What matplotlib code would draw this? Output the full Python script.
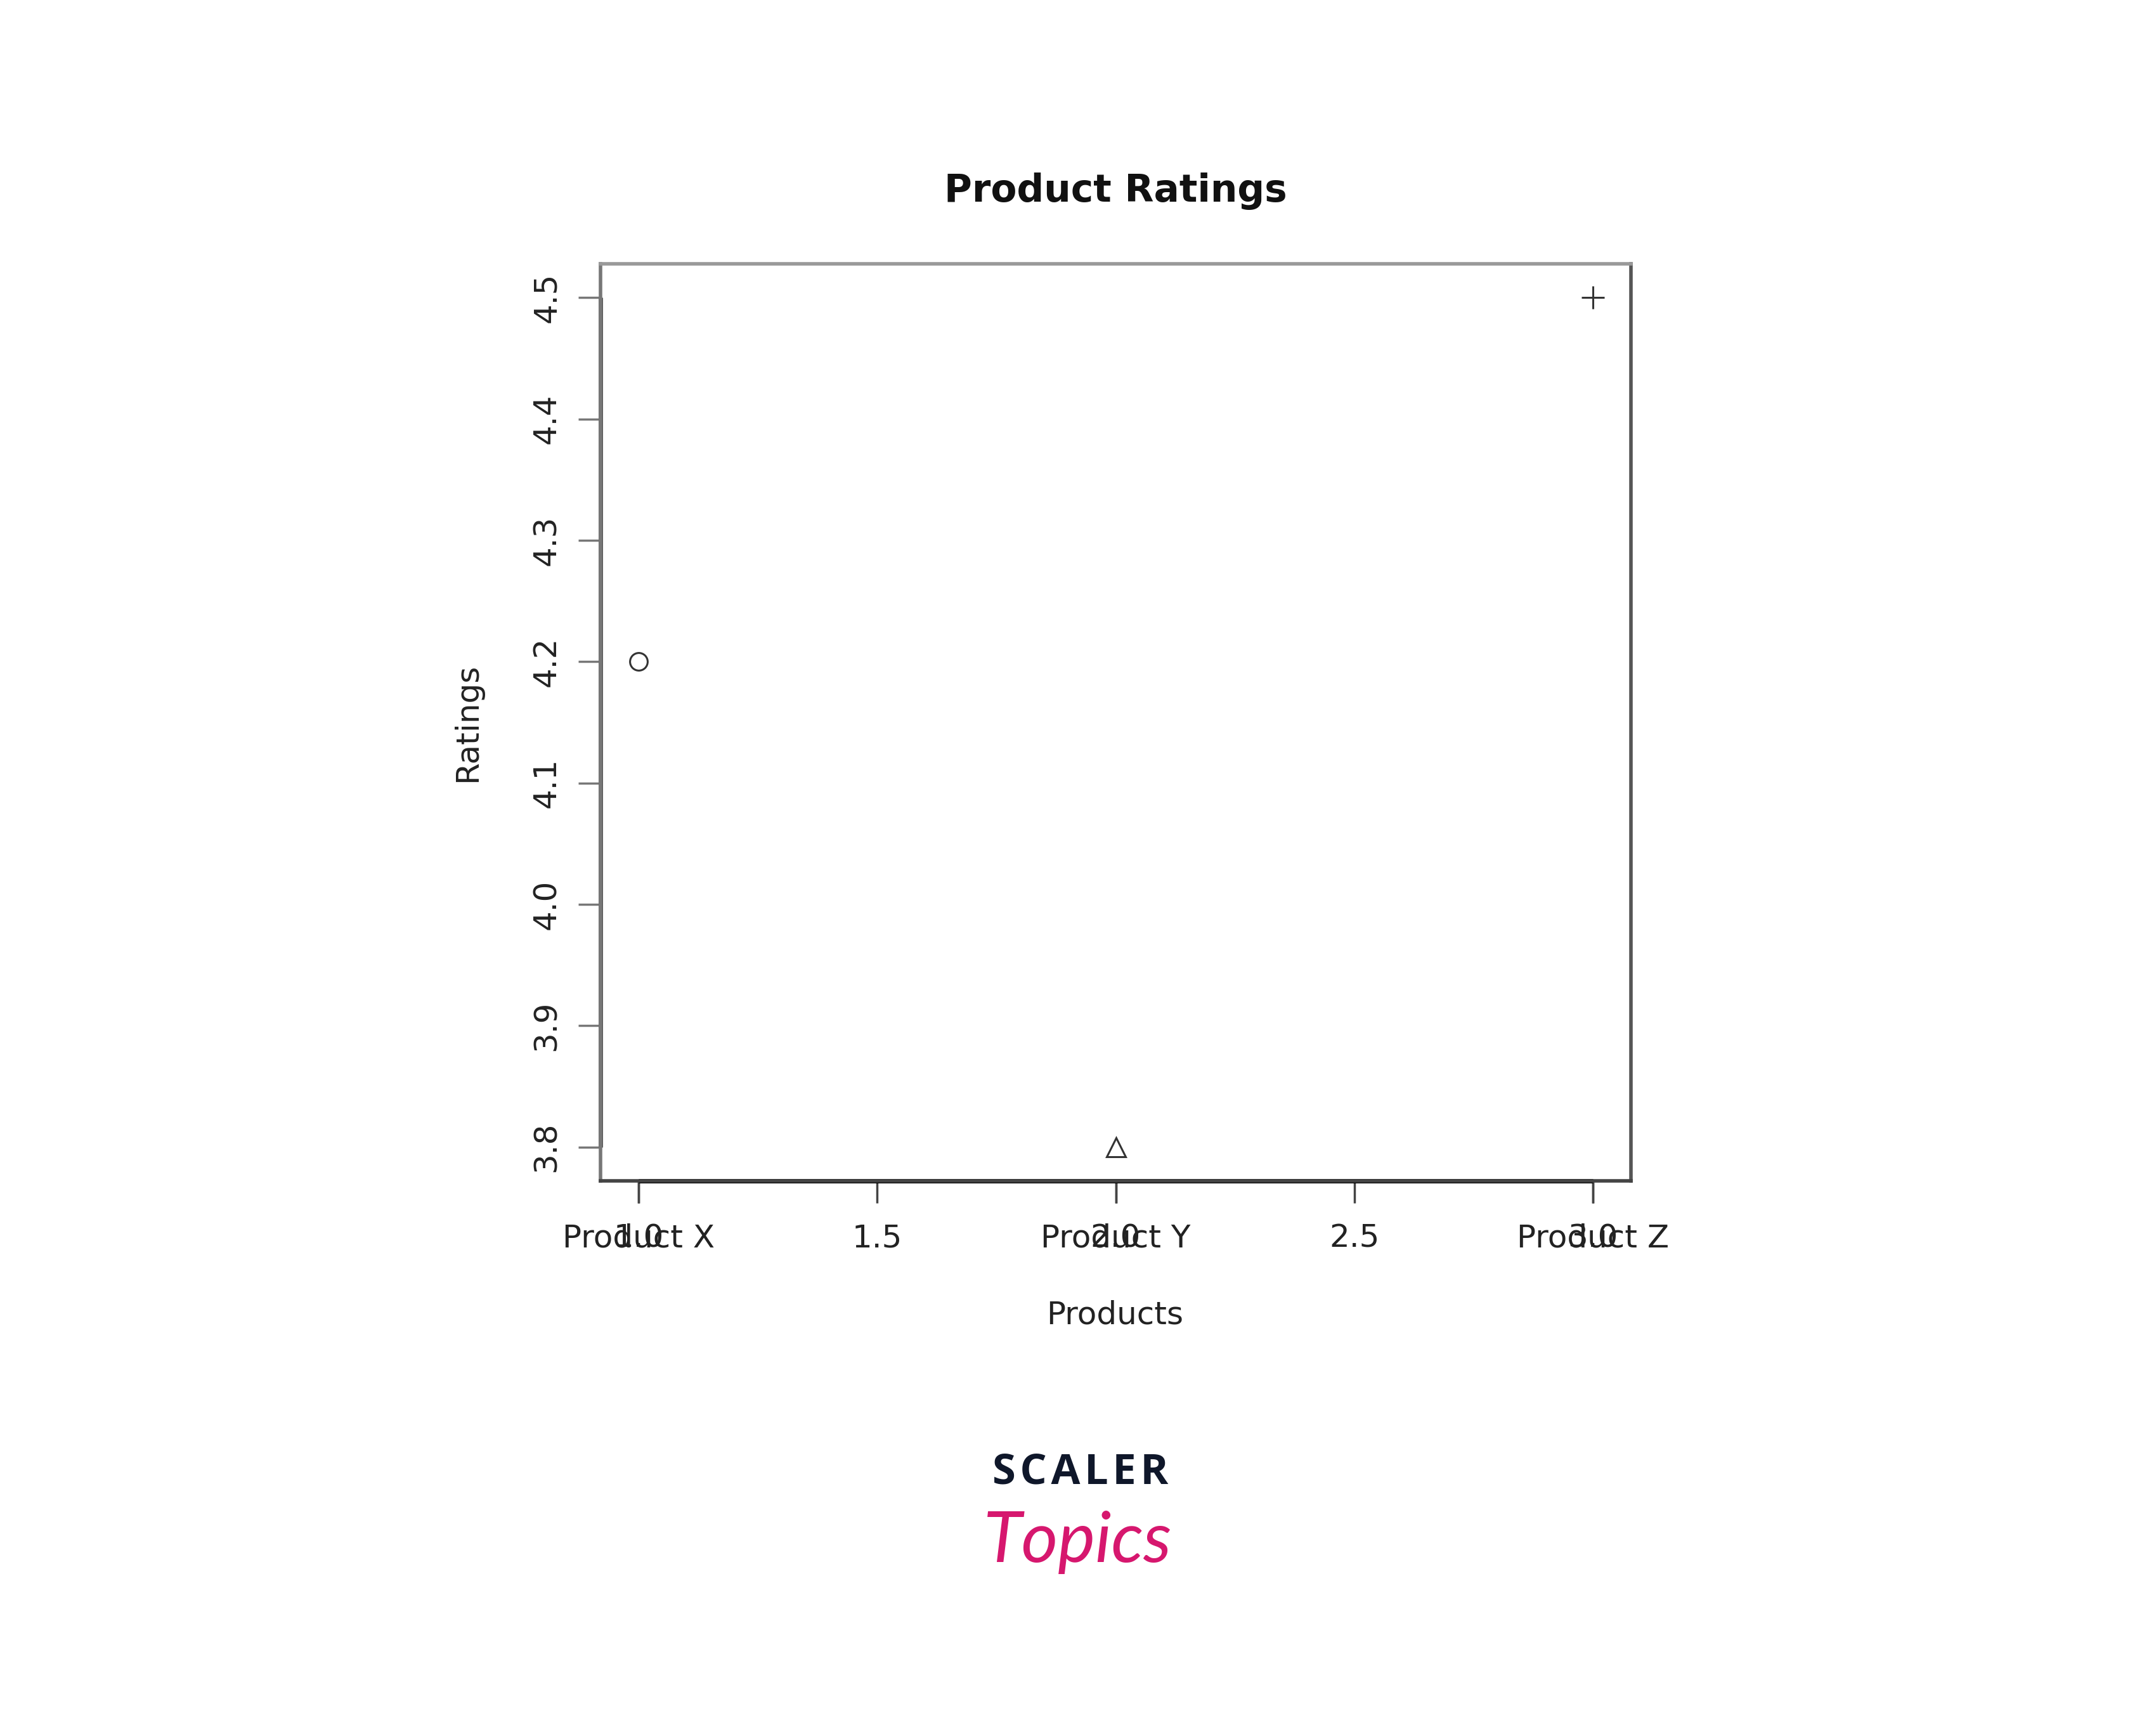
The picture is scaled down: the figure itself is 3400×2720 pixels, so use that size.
import matplotlib
matplotlib.use("Agg")
import matplotlib.pyplot as plt

# ---- data ----
products = ["Product X", "Product Y", "Product Z"]
positions = [1, 2, 3]
ratings = [4.2, 3.8, 4.5]
markers = ["o", "^", "+"]
x_ticks = [1.0, 1.5, 2.0, 2.5, 3.0]
x_tick_labels = ["1.0", "1.5", "2.0", "2.5", "3.0"]
y_ticks = [3.8, 3.9, 4.0, 4.1, 4.2, 4.3, 4.4, 4.5]
y_tick_labels = ["3.8", "3.9", "4.0", "4.1", "4.2", "4.3", "4.4", "4.5"]

plt.rcParams['font.family'] = ['DejaVu Sans']

fig = plt.figure(figsize=(34, 27.2), dpi=100)
ax = fig.add_axes([0.2785, 0.3154, 0.478, 0.5317])

mk_color = "#333333"
sizes = {"o": 20, "^": 22, "+": 26}
for xv, yv, m in zip(positions, ratings, markers):
    if m == "+":
        ax.plot([xv], [yv], marker=m, markersize=sizes[m], color=mk_color,
                markeredgewidth=2.2, linestyle="none")
    else:
        ax.plot([xv], [yv], marker=m, markersize=sizes[m], markerfacecolor="none",
                markeredgecolor=mk_color, markeredgewidth=2.2, linestyle="none")

# R-like 4% extension
xr = max(positions) - min(positions)
yr = max(ratings) - min(ratings)
ax.set_xlim(min(positions) - 0.04 * xr, max(positions) + 0.04 * xr)
ax.set_ylim(min(ratings) - 0.04 * yr, max(ratings) + 0.04 * yr)

ax.set_xticks(x_ticks)
ax.set_xticklabels(x_tick_labels, fontsize=36, color="#222222")
# overlapping product labels, drawn as minor tick labels at the same spots
ax.xaxis.remove_overlapping_locs = False
ax.set_xticks(positions, minor=True)
ax.set_xticklabels(products, minor=True, fontsize=36, color="#222222")
ax.set_yticks(y_ticks)
ax.set_yticklabels(y_tick_labels, fontsize=36, color="#222222", rotation=90, va="center")
ax.tick_params(axis="x", which="major", length=25, width=2.5, color="#444444", pad=23)
ax.tick_params(axis="x", which="minor", length=25, width=2.5, color="#444444", pad=23)
ax.tick_params(axis="y", length=25, width=2.5, color="#777777", pad=19)

for side, col in [("top", "#999999"), ("right", "#555555"), ("left", "#777777"), ("bottom", "#444444")]:
    ax.spines[side].set_color(col)
    ax.spines[side].set_linewidth(4)

# axis lines over tick range (R style)
ylo = ax.get_ylim()[0]
xlo = ax.get_xlim()[0]
ax.plot([x_ticks[0], x_ticks[-1]], [ylo, ylo], color="black", lw=5, clip_on=False, solid_capstyle="butt")
ax.plot([xlo, xlo], [y_ticks[0], y_ticks[-1]], color="#555555", lw=5, clip_on=False, solid_capstyle="butt")

ax.text(0.499, -0.146, "Products", transform=ax.transAxes, ha="center", va="center",
        fontsize=36, color="#222222")
ax.text(-0.129, 0.5, "Ratings", transform=ax.transAxes, ha="center", va="center",
        rotation=90, fontsize=36, color="#222222")

fig.text(0.5175, 0.889, "Product Ratings", ha="center", va="center",
         fontsize=43, fontweight="bold", color="#111111")

# logo
fig.text(0.501, 1 - 2322 / 2720, "S\u200aC\u200aA\u200aL\u200aE\u200aR", ha="center", va="center",
         fontsize=48, fontweight="bold", color="#0f172a", family=["Open Sans", "DejaVu Sans"])
fig.text(0.500, 1 - 2432 / 2720, "Topics", ha="center", va="center",
         fontsize=80, style="italic", color="#d6176e", family="Lato")

fig.savefig("out.png", dpi=100, facecolor="white")
